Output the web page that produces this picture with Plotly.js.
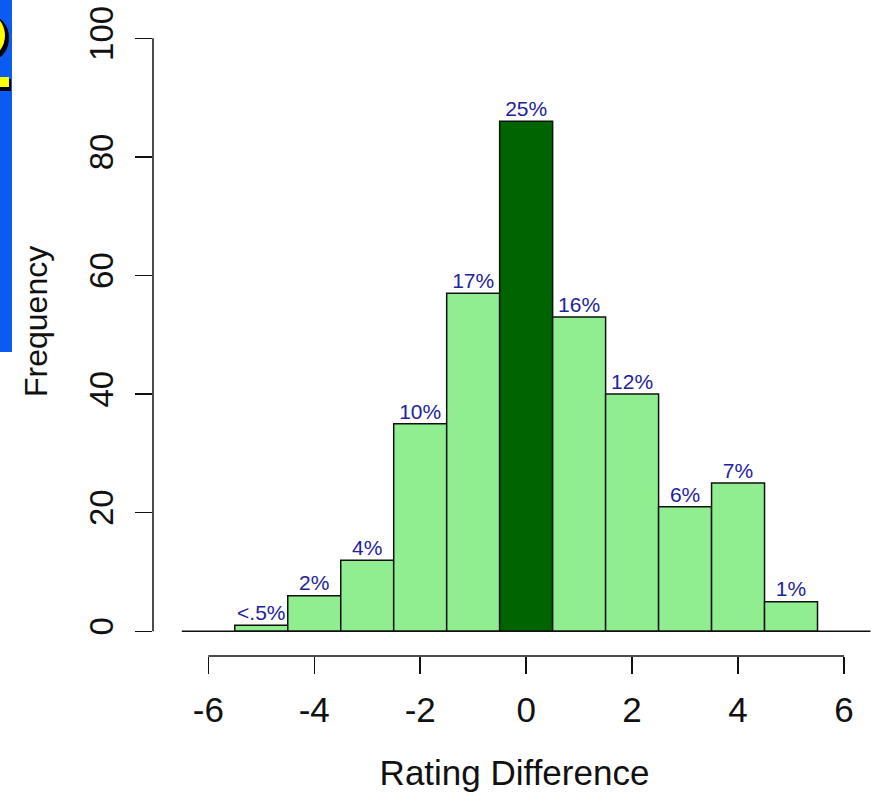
<!DOCTYPE html>
<html>
<head>
<meta charset="utf-8">
<script src="https://cdn.plot.ly/plotly-3.0.1.min.js"></script>
<style>html,body{margin:0;padding:0;background:#fff;}#chart{width:876px;height:801px;}</style>
</head>
<body>
<div id="chart"></div>
<script>
// Data
const binCenters = [-5, -4, -3, -2, -1, 0, 1, 2, 3, 4, 5];
const frequencies = [1, 6, 12, 35, 57, 86, 53, 40, 21, 25, 5];
const pctLabels = ["<.5%", "2%", "4%", "10%", "17%", "25%", "16%", "12%", "6%", "7%", "1%"];
const xTickVals = [-6, -4, -2, 0, 2, 4, 6];
const xTickText = ["-6", "-4", "-2", "0", "2", "4", "6"];
const yTickVals = [0, 20, 40, 60, 80, 100];

const light = "#90EE90", dark = "#006400";
const barColors = binCenters.map(c => c === 0 ? dark : light);

// pixel -> paper helpers for decorations outside plot
const L = 153, T = 20, W = 876 - L, H = 656 - T;
const px = p => (p - L) / W;
const py = p => (656 - p) / H;

const font = "Liberation Sans, Arial, sans-serif";

const traces = [
  {
    type: "bar", x: binCenters, y: frequencies, width: 1,
    marker: {color: barColors, line: {color: "#111", width: 1.5}},
    hoverinfo: "skip", showlegend: false
  },
  {
    type: "scatter", mode: "text", x: binCenters, y: frequencies, text: pctLabels,
    textposition: "top center", textfont: {family: font, size: 21, color: "#22229c"},
    hoverinfo: "skip", showlegend: false, cliponaxis: false
  }
];

const shapes = [
  // baseline at y=0
  {type: "line", xref: "x", yref: "y", x0: -6.5, x1: 6.5, y0: 0, y1: 0, line: {color: "#111", width: 1.5}},
  // y axis line 0..100
  {type: "line", xref: "paper", yref: "y", x0: 0, x1: 0, y0: 0, y1: 100, line: {color: "#111", width: 1.5}},
  // x axis line -6..6
  {type: "line", xref: "x", yref: "paper", x0: -6, x1: 6, y0: 0, y1: 0, line: {color: "#111", width: 1.5}},
  // slide decoration: blue panel
  {type: "rect", xref: "paper", yref: "paper", x0: px(-2), x1: px(12), y0: py(352), y1: py(-2), fillcolor: "#0a5cf0", line: {width: 0}, layer: "above"},
  // yellow glyph fragments with dark shadow
  {type: "circle", xref: "paper", yref: "paper", x0: px(-26), x1: px(9), y0: py(60), y1: py(16), fillcolor: "#000", line: {width: 0}, layer: "above"},
  {type: "circle", xref: "paper", yref: "paper", x0: px(-28), x1: px(5), y0: py(56), y1: py(15), fillcolor: "#ffff00", line: {width: 0}, layer: "above"},
  {type: "rect", xref: "paper", yref: "paper", x0: px(-2), x1: px(11), y0: py(91), y1: py(79), fillcolor: "#000", line: {width: 0}, layer: "above"},
  {type: "rect", xref: "paper", yref: "paper", x0: px(-2), x1: px(9), y0: py(87), y1: py(77), fillcolor: "#ffff00", line: {width: 0}, layer: "above"}
];

const layout = {
  width: 876, height: 801,
  margin: {l: L, r: 0, t: T, b: 801 - 656},
  paper_bgcolor: "#fff", plot_bgcolor: "#fff",
  font: {family: font, color: "#111"},
  bargap: 0,
  xaxis: {
    range: [(153 - 526.15) / 52.975, (876 - 526.15) / 52.975],
    showgrid: false, zeroline: false, showline: false,
    tickmode: "array", tickvals: xTickVals, ticktext: xTickText,
    ticks: "outside", ticklen: 17, tickwidth: 1.5, tickcolor: "#111",
    tickfont: {family: font, size: 35, color: "#111"},
    ticklabelstandoff: 6,
    title: {text: "Rating Difference", font: {family: font, size: 35, color: "#111"}, standoff: 32}
  },
  yaxis: {
    range: [-24.7 / 5.927, (631 - 20) / 5.927],
    showgrid: false, zeroline: false, showline: false,
    tickmode: "array", tickvals: yTickVals,
    ticks: "outside", ticklen: 17, tickwidth: 1.5, tickcolor: "#111",
    tickangle: -90,
    tickfont: {family: font, size: 33, color: "#111"},
    ticklabelstandoff: 9
  },
  annotations: [
    {text: "Frequency", textangle: -90, xref: "paper", yref: "paper", x: px(36), y: py(322),
     xanchor: "center", yanchor: "middle", showarrow: false,
     font: {family: font, size: 32, color: "#111"}}
  ],
  shapes: shapes,
  showlegend: false
};

Plotly.newPlot("chart", traces, layout, {displayModeBar: false, staticPlot: true});
</script>
</body>
</html>
